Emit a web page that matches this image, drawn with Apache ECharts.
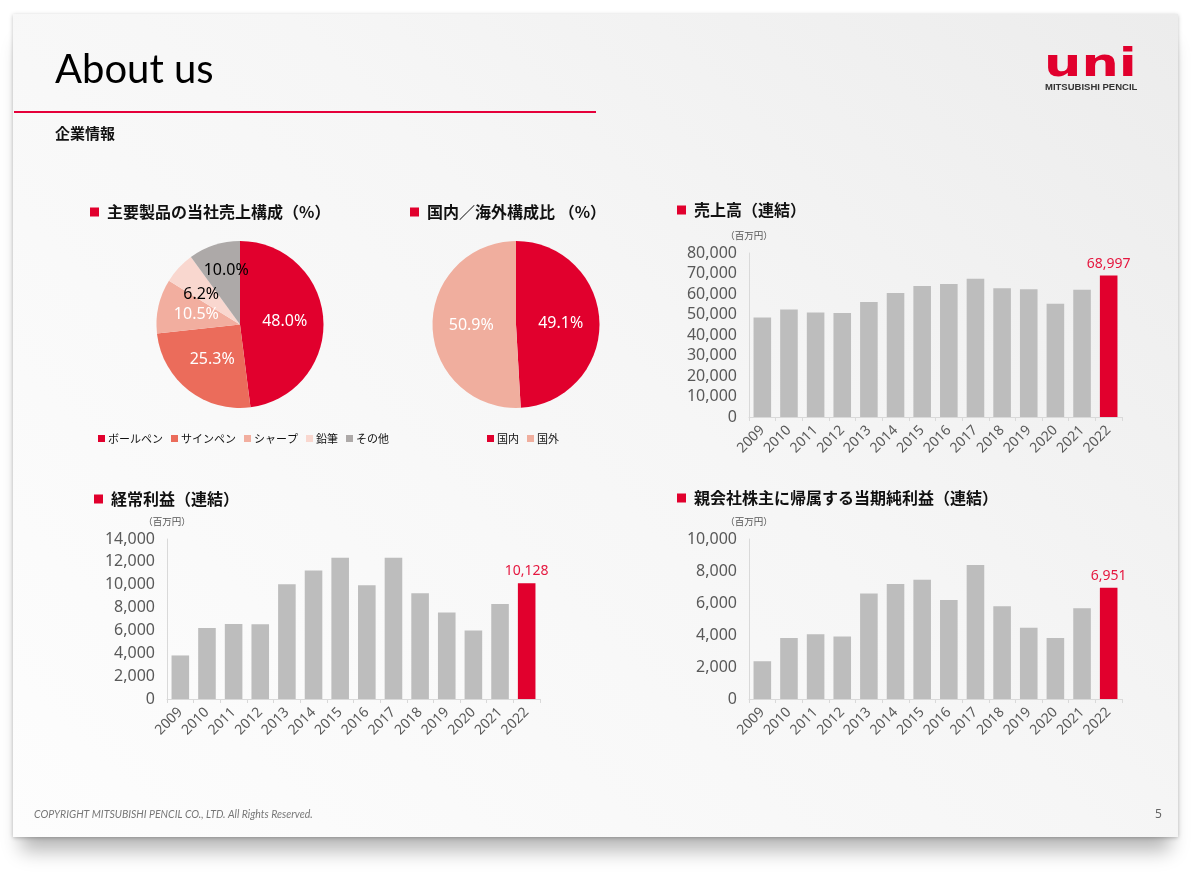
<!DOCTYPE html>
<html><head><meta charset="utf-8">
<script src="https://cdn.jsdelivr.net/npm/echarts@6/dist/echarts.min.js"></script>
<style>
html,body{margin:0;padding:0;background:#fff;width:1200px;height:887px;overflow:hidden;}
#slide{position:absolute;left:13px;top:14px;width:1165px;height:823px;
 background:linear-gradient(225deg,#ececec 0%,#f6f6f6 45%,#fdfdfd 100%);
 box-shadow:0 1px 4px rgba(0,0,0,0.25),0 22px 18px -8px rgba(0,0,0,0.28);}
#chart{position:absolute;left:0;top:0;width:1200px;height:887px;}
</style></head>
<body>
<div id="slide"></div>
<div id="chart"></div>
<script>
const years = ['2009','2010','2011','2012','2013','2014','2015','2016','2017','2018','2019','2020','2021','2022'];
const salesValues = [48500, 52400, 51000, 50700, 56100, 60500, 63900, 64900, 67500, 62800, 62300, 55300, 62100, 68997];
const ordinaryValues = [3810, 6210, 6560, 6530, 10050, 11250, 12360, 9960, 12360, 9260, 7560, 6000, 8320, 10128];
const netValues = [2360, 3810, 4040, 3910, 6590, 7180, 7450, 6190, 8370, 5800, 4460, 3810, 5670, 6951];
const productNames = ['ボールペン','サインペン','シャープ','鉛筆','その他'];
const productShares = [48.0, 25.3, 10.5, 6.2, 10.0];
const regionNames = ['国内','国外'];
const regionShares = [49.1, 50.9];

const RED = '#E1002D';
const GRAY = '#BDBDBD';
const CJK = '"Noto Sans CJK JP", "Noto Sans", sans-serif';
const NUM = '"Noto Sans", "Noto Sans CJK JP", sans-serif';
const productColors = ['#E1002D','#EB6C5B','#F2AE9F','#F9D7CF','#ADA9A8'];
const productLabelColors = ['#fff','#fff','#fff','#000','#000'];
const regionColors = ['#E1002D','#F0AE9E'];

const chart = echarts.init(document.getElementById('chart'), null, {renderer:'canvas'});

function fmt(v){ return Number(v).toLocaleString('en-US'); }

function barData(vals){
  const last = vals.length - 1;
  return vals.map((v,i)=> i===last ? {
    value: v, itemStyle:{color:RED},
    label:{show:true, position:'top', distance:5, color:'#E5173F', fontSize:14, fontFamily:NUM, formatter: p=>fmt(p.value)}
  } : v);
}

const grids = [
  {left:749, right:78, top:253, bottom:470},
  {left:167, right:660, top:539, bottom:188},
  {left:749, right:78, top:539, bottom:188}
];
const maxes = [80000, 14000, 10000];
const intervals = [10000, 2000, 2000];
const barSets = [salesValues, ordinaryValues, netValues];

const xAxes = grids.map((g,i)=>({
  type:'category', gridIndex:i, data:years,
  axisLine:{lineStyle:{color:'#D9D9D9', width:1}},
  axisTick:{show:true, length:4, lineStyle:{color:'#D9D9D9'}},
  axisLabel:{rotate:45, fontSize:14, color:'#595959', fontFamily:NUM, margin:11}
}));
const yAxes = grids.map((g,i)=>({
  type:'value', gridIndex:i, min:0, max:maxes[i], interval:intervals[i],
  name:'（百万円）', nameLocation:'end', nameGap:13,
  nameTextStyle:{fontSize:9.5, color:'#555', fontFamily:CJK, align:'center'},
  axisLine:{show:true, lineStyle:{color:'#D9D9D9'}},
  axisTick:{show:false},
  splitLine:{show:false},
  axisLabel:{fontSize:16, color:'#595959', fontFamily:NUM, margin:12, formatter:v=>fmt(v)}
}));

const barSeries = barSets.map((vals,i)=>({
  type:'bar', xAxisIndex:i, yAxisIndex:i, data:barData(vals),
  barWidth:'66%', itemStyle:{color:GRAY}, silent:true
}));

function sectionTitle(x, y, text){
  return [
    {type:'rect', shape:{x:x, y:y-4.5, width:9, height:9}, style:{fill:RED}},
    {type:'text', style:{text:text, x:x+17, y:y, verticalAlign:'middle', fill:'#111',
      fontSize:16, fontWeight:'bold', fontFamily:CJK}}
  ];
}

const graphics = [
  {type:'text', style:{text:'About us', x:55, y:70, verticalAlign:'middle', fill:'#000', fontSize:40, fontFamily:'Lato, "Noto Sans", sans-serif'}},
  {type:'rect', shape:{x:14, y:111, width:582, height:2}, style:{fill:'#E5003A'}},
  {type:'text', style:{text:'企業情報', x:55, y:133, verticalAlign:'middle', fill:'#111', fontSize:15, fontWeight:'bold', fontFamily:CJK}},
  {type:'text', x:1044, y:66, scaleX:1.5, scaleY:1.1,
   style:{text:'uni', x:0, y:0, verticalAlign:'middle', fill:RED, fontSize:35, fontWeight:'bold', fontFamily:'"DejaVu Sans", sans-serif'}},
  {type:'text', style:{text:'MITSUBISHI PENCIL', x:1045, y:87, verticalAlign:'middle', fill:'#333', fontSize:9.5, fontWeight:'bold', fontFamily:'"Liberation Sans", sans-serif'}},
  {type:'text', style:{text:'COPYRIGHT MITSUBISHI PENCIL CO., LTD. All Rights Reserved.', x:34, y:815, verticalAlign:'middle', fill:'#777', fontSize:10.5, fontStyle:'italic', fontFamily:'Lato, "Noto Sans", sans-serif'}},
  {type:'text', style:{text:'5', x:1155, y:815, verticalAlign:'middle', fill:'#666', fontSize:12, fontFamily:NUM}},
  ...sectionTitle(90, 212, '主要製品の当社売上構成（%）'),
  ...sectionTitle(410, 212, '国内／海外構成比 （%）'),
  ...sectionTitle(677, 210, '売上高（連結）'),
  ...sectionTitle(94, 499, '経常利益（連結）'),
  ...sectionTitle(677, 498, '親会社株主に帰属する当期純利益（連結）')
];

const option = {
  animation:false,
  backgroundColor:'transparent',
  graphic: graphics,
  legend:[
    {data:productNames, left:93, top:428, icon:'rect', itemWidth:7, itemHeight:7, itemGap:8,
     textStyle:{fontSize:11, color:'#111', fontFamily:CJK, padding:[0,0,0,-2]}},
    {data:regionNames, left:482, top:428, icon:'rect', itemWidth:7, itemHeight:7, itemGap:8,
     textStyle:{fontSize:11, color:'#111', fontFamily:CJK, padding:[0,0,0,-2]}}
  ],
  grid: grids,
  xAxis: xAxes,
  yAxis: yAxes,
  series:[
    {type:'pie', center:[240,324.5], radius:83.5, startAngle:90, clockwise:true, silent:true,
     data: productNames.map((n,i)=>({name:n, value:productShares[i], itemStyle:{color:productColors[i]},
       label:{color:productLabelColors[i]}})),
     label:{show:true, position:'inside', fontSize:16, fontFamily:NUM, formatter:p=>p.value.toFixed(1)+'%'},
     labelLayout: p => (p.dataIndex===4 ? {dy:-12} : (p.dataIndex===3 ? {dx:-6} : {})),
     itemStyle:{borderWidth:0}},
    {type:'pie', center:[516,324.5], radius:83.5, startAngle:90, clockwise:true, silent:true,
     data: regionNames.map((n,i)=>({name:n, value:regionShares[i], itemStyle:{color:regionColors[i]}})),
     label:{show:true, position:'inside', color:'#fff', fontSize:16, fontFamily:NUM, formatter:p=>p.value.toFixed(1)+'%'},
     itemStyle:{borderWidth:0}},
    ...barSeries
  ]
};
chart.setOption(option);
</script>
</body></html>
